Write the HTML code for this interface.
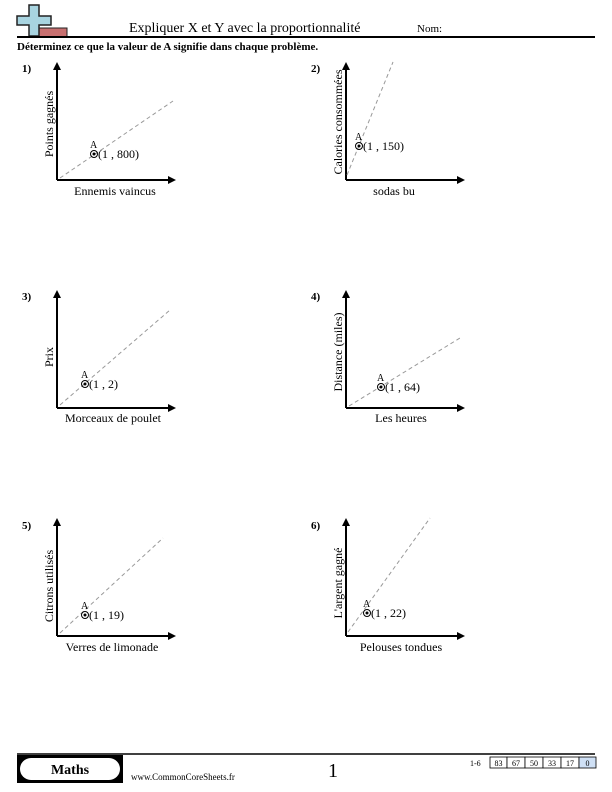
<!DOCTYPE html>
<html><head><meta charset="utf-8"><style>
body{margin:0;background:#fff;}
svg{display:block;font-family:"Liberation Serif",serif;}
</style></head><body>
<svg width="612" height="792" viewBox="0 0 612 792" xmlns="http://www.w3.org/2000/svg">
<defs><marker id="ar" markerWidth="8" markerHeight="8" refX="6" refY="4" orient="auto" markerUnits="userSpaceOnUse"><path d="M0,0 L8,4 L0,8 Z" fill="#000"/></marker></defs>
<!-- logo -->
<rect x="38" y="28" width="29" height="9" fill="#c87070" stroke="#222" stroke-width="1"/>
<path d="M29,5 h10 v11 h12 v9 h-12 v11 h-10 v-11 h-12 v-9 h12 z" fill="#a8d4e0" stroke="#222" stroke-width="1.5"/>
<text x="129" y="32" font-size="14">Expliquer X et Y avec la proportionnalité</text>
<text x="417" y="32" font-size="11">Nom:</text>
<line x1="17" y1="37" x2="595" y2="37" stroke="#000" stroke-width="2"/>
<text x="17" y="50" font-size="11" font-weight="bold">Déterminez ce que la valeur de A signifie dans chaque problème.</text>
<g font-size="12">
<!-- 1 -->
<text x="22" y="72" font-weight="bold" font-size="11">1)</text>
<line x1="57" y1="180" x2="57" y2="64" stroke="#000" stroke-width="2" marker-end="url(#ar)"/>
<line x1="57" y1="180" x2="174" y2="180" stroke="#000" stroke-width="2" marker-end="url(#ar)"/>
<line x1="60" y1="178" x2="173" y2="101" stroke="#999" stroke-dasharray="4,3"/>
<circle cx="94" cy="154" r="3.5" fill="none" stroke="#000"/><circle cx="94" cy="154" r="1.5"/>
<text x="90" y="148" font-size="10">A</text><text x="98" y="158">(1 , 800)</text>
<text x="115" y="195" text-anchor="middle">Ennemis vaincus</text>
<text transform="translate(53,124) rotate(-90)" text-anchor="middle">Points gagnés</text>
<!-- 2 -->
<text x="311" y="72" font-weight="bold" font-size="11">2)</text>
<line x1="346" y1="180" x2="346" y2="64" stroke="#000" stroke-width="2" marker-end="url(#ar)"/>
<line x1="346" y1="180" x2="463" y2="180" stroke="#000" stroke-width="2" marker-end="url(#ar)"/>
<line x1="347" y1="175" x2="393" y2="62" stroke="#999" stroke-dasharray="4,3"/>
<circle cx="359" cy="146" r="3.5" fill="none" stroke="#000"/><circle cx="359" cy="146" r="1.5"/>
<text x="355" y="140" font-size="10">A</text><text x="363" y="150">(1 , 150)</text>
<text x="394" y="195" text-anchor="middle">sodas bu</text>
<text transform="translate(342,122) rotate(-90)" text-anchor="middle">Calories consommées</text>
<!-- 3 -->
<text x="22" y="300" font-weight="bold" font-size="11">3)</text>
<line x1="57" y1="408" x2="57" y2="292" stroke="#000" stroke-width="2" marker-end="url(#ar)"/>
<line x1="57" y1="408" x2="174" y2="408" stroke="#000" stroke-width="2" marker-end="url(#ar)"/>
<line x1="60" y1="405" x2="170" y2="310" stroke="#999" stroke-dasharray="4,3"/>
<circle cx="85" cy="384" r="3.5" fill="none" stroke="#000"/><circle cx="85" cy="384" r="1.5"/>
<text x="81" y="378" font-size="10">A</text><text x="89" y="388">(1 , 2)</text>
<text x="113" y="422" text-anchor="middle">Morceaux de poulet</text>
<text transform="translate(53,357) rotate(-90)" text-anchor="middle">Prix</text>
<!-- 4 -->
<text x="311" y="300" font-weight="bold" font-size="11">4)</text>
<line x1="346" y1="408" x2="346" y2="292" stroke="#000" stroke-width="2" marker-end="url(#ar)"/>
<line x1="346" y1="408" x2="463" y2="408" stroke="#000" stroke-width="2" marker-end="url(#ar)"/>
<line x1="349" y1="406" x2="460" y2="338" stroke="#999" stroke-dasharray="4,3"/>
<circle cx="381" cy="387" r="3.5" fill="none" stroke="#000"/><circle cx="381" cy="387" r="1.5"/>
<text x="377" y="381" font-size="10">A</text><text x="385" y="391">(1 , 64)</text>
<text x="401" y="422" text-anchor="middle">Les heures</text>
<text transform="translate(342,352) rotate(-90)" text-anchor="middle">Distance (miles)</text>
<!-- 5 -->
<text x="22" y="529" font-weight="bold" font-size="11">5)</text>
<line x1="57" y1="636" x2="57" y2="520" stroke="#000" stroke-width="2" marker-end="url(#ar)"/>
<line x1="57" y1="636" x2="174" y2="636" stroke="#000" stroke-width="2" marker-end="url(#ar)"/>
<line x1="60" y1="633" x2="163" y2="538" stroke="#999" stroke-dasharray="4,3"/>
<circle cx="85" cy="615" r="3.5" fill="none" stroke="#000"/><circle cx="85" cy="615" r="1.5"/>
<text x="81" y="609" font-size="10">A</text><text x="89" y="619">(1 , 19)</text>
<text x="112" y="651" text-anchor="middle">Verres de limonade</text>
<text transform="translate(53,586) rotate(-90)" text-anchor="middle">Citrons utilisés</text>
<!-- 6 -->
<text x="311" y="529" font-weight="bold" font-size="11">6)</text>
<line x1="346" y1="636" x2="346" y2="520" stroke="#000" stroke-width="2" marker-end="url(#ar)"/>
<line x1="346" y1="636" x2="463" y2="636" stroke="#000" stroke-width="2" marker-end="url(#ar)"/>
<line x1="348" y1="632" x2="430" y2="518" stroke="#999" stroke-dasharray="4,3"/>
<circle cx="367" cy="613" r="3.5" fill="none" stroke="#000"/><circle cx="367" cy="613" r="1.5"/>
<text x="363" y="607" font-size="10">A</text><text x="371" y="617">(1 , 22)</text>
<text x="401" y="651" text-anchor="middle">Pelouses tondues</text>
<text transform="translate(342,583) rotate(-90)" text-anchor="middle">L'argent gagné</text>
</g>
<!-- footer -->
<line x1="17" y1="754" x2="595" y2="754" stroke="#000" stroke-width="1.5"/>
<rect x="17" y="755" width="106" height="28" fill="#000"/>
<rect x="20" y="758" width="100" height="22" rx="11" fill="#fff"/>
<text x="70" y="774" font-size="14" font-weight="bold" text-anchor="middle">Maths</text>
<text x="131" y="780" font-size="9">www.CommonCoreSheets.fr</text>
<text x="333" y="777" font-size="20" text-anchor="middle">1</text>
<text x="470" y="766" font-size="8">1-6</text>
<g font-size="8" text-anchor="middle" stroke-width="0.8">
<rect x="490" y="757" width="17" height="11" fill="#fff" stroke="#000"/><text x="498.5" y="766">83</text>
<rect x="507" y="757" width="18" height="11" fill="#fff" stroke="#000"/><text x="516" y="766">67</text>
<rect x="525" y="757" width="18" height="11" fill="#fff" stroke="#000"/><text x="534" y="766">50</text>
<rect x="543" y="757" width="18" height="11" fill="#fff" stroke="#000"/><text x="552" y="766">33</text>
<rect x="561" y="757" width="18" height="11" fill="#fff" stroke="#000"/><text x="570" y="766">17</text>
<rect x="579" y="757" width="17" height="11" fill="#cfe0f5" stroke="#000"/><text x="587.5" y="766">0</text>
</g>
</svg>
</body></html>
